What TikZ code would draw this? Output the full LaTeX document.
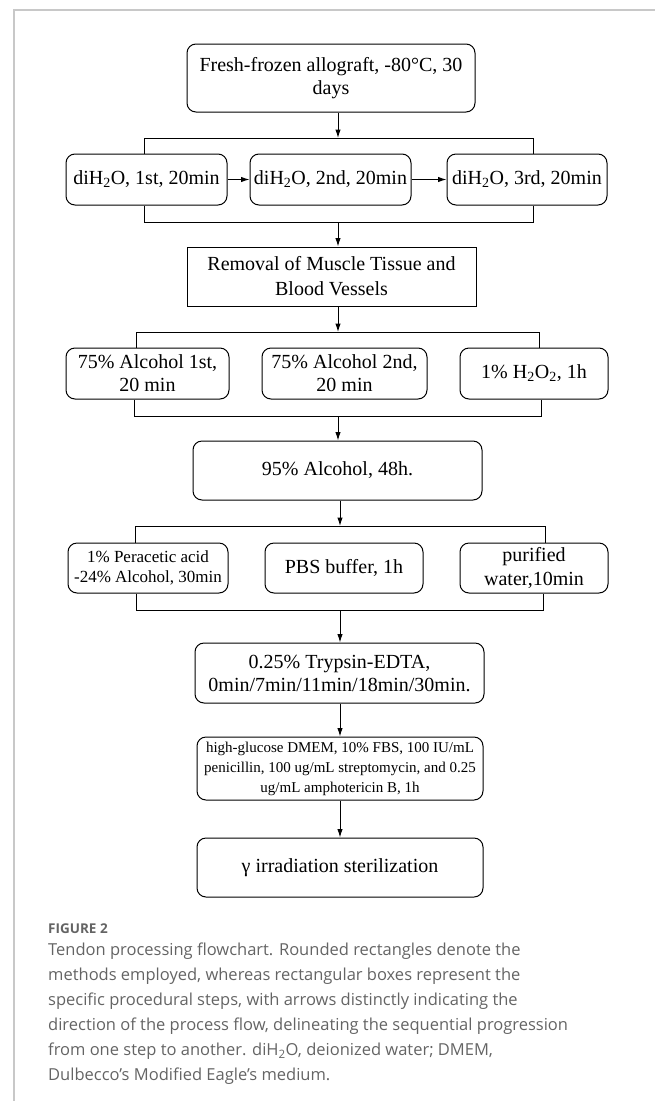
\documentclass[tikz,border=0pt]{standalone}
\usepackage{fontspec}
\setmainfont{Liberation Serif}
\newfontfamily\capfont{Open Sans}
\usetikzlibrary{arrows.meta}
\definecolor{framegray}{RGB}{200,200,200}
\definecolor{capgray}{RGB}{100,100,100}

\begin{document}
\begin{tikzpicture}[x=1pt, y=-1pt,
    method/.style={
        rectangle, draw=black, line width=1pt, rounded corners=9pt,
        align=center, inner sep=0pt, font=\fontsize{20}{23}\selectfont},
    stepbox/.style={
        rectangle, draw=black, line width=1pt,
        align=center, inner sep=0pt, font=\fontsize{20}{25}\selectfont},
    arr/.style={-{Latex[length=8.5pt, width=5.5pt]}, line width=1pt},
    link/.style={line width=1pt}
]
\useasboundingbox (0,0) rectangle (655,1101);

%% ── Page frame ──────────────────────────────────────────────────
\draw[framegray, line width=1.5pt] (14,1101) -- (14,10) -- (655,10);

%% ── Start ───────────────────────────────────────────────────────
\node[method, minimum width=288pt, minimum height=68pt] (fresh) at (331,78)
    {Fresh-frozen allograft, -80°C, 30\\days};

%% ── Deionized water washes ──────────────────────────────────────
\node[method, minimum width=161pt, minimum height=51pt] (di1) at (146.5,179.5)
    {diH\textsubscript{2}O, 1st, 20min};
\node[method, minimum width=161pt, minimum height=51pt] (di2) at (330.5,179.5)
    {diH\textsubscript{2}O, 2nd, 20min};
\node[method, minimum width=160pt, minimum height=51pt] (di3) at (527,179.5)
    {diH\textsubscript{2}O, 3rd, 20min};

%% ── Removal step ────────────────────────────────────────────────
\node[stepbox, minimum width=289pt, minimum height=59pt] (removal) at (331.5,276.5)
    {Removal of Muscle Tissue and\\Blood Vessels};

%% ── Alcohol and peroxide ────────────────────────────────────────
\node[method, minimum width=163pt, minimum height=51pt] (alc1) at (147.5,373.5)
    {75\% Alcohol 1st,\\20 min};
\node[method, minimum width=165pt, minimum height=51pt] (alc2) at (344.5,373.5)
    {75\% Alcohol 2nd,\\20 min};
\node[method, minimum width=148pt, minimum height=51pt] (hpo) at (534,373.5)
    {1\% H\textsubscript{2}O\textsubscript{2}, 1h};

\node[method, minimum width=289pt, minimum height=59pt] (alc95) at (337.5,470.5)
    {95\% Alcohol, 48h.};

%% ── Peracetic acid, PBS, water ──────────────────────────────────
\node[method, minimum width=160pt, minimum height=50pt,
      font=\fontsize{17}{20}\selectfont] (pera) at (148,568)
    {1\% Peracetic acid\\-24\% Alcohol, 30min};
\node[method, minimum width=158pt, minimum height=50pt] (pbs) at (344,568)
    {PBS buffer, 1h};
\node[method, minimum width=148pt, minimum height=50pt,
      font=\fontsize{20}{24}\selectfont] (water) at (534,568)
    {purified\\water,10min};

%% ── Trypsin, medium, sterilization ──────────────────────────────
\node[method, minimum width=289pt, minimum height=60pt] (tryp) at (339.5,673)
    {0.25\% Trypsin-EDTA,\\0min/7min/11min/18min/30min.};
\node[method, minimum width=286pt, minimum height=63pt,
      font=\fontsize{15}{20}\selectfont] (dmem) at (340,768.5)
    {high-glucose DMEM, 10\% FBS, 100 IU/mL\\penicillin, 100 ug/mL streptomycin, and 0.25\\ug/mL amphotericin B, 1h};
\node[method, minimum width=286pt, minimum height=59pt] (gamma) at (340,867.5)
    {γ irradiation sterilization};

%% ── Split / merge points ────────────────────────────────────────
\coordinate (s1)  at (338,138);
\coordinate (s1l) at (144,138);
\coordinate (s1r) at (533,138);
\coordinate (m1)  at (338,222);
\coordinate (m1l) at (144,222);
\coordinate (m1r) at (533,222);

\coordinate (s2)  at (338,332);
\coordinate (s2l) at (136,332);
\coordinate (s2r) at (539,332);
\coordinate (m2)  at (338,416);
\coordinate (m2l) at (134,416);
\coordinate (m2r) at (541,416);

\coordinate (s3)  at (340,526);
\coordinate (s3l) at (135,526);
\coordinate (s3r) at (545,526);
\coordinate (m3)  at (340,610);
\coordinate (m3l) at (136,610);
\coordinate (m3r) at (543,610);

%% ── Washes ──────────────────────────────────────────────────────
\draw[arr] (fresh.south -| s1) -- (s1);
\draw[link] (s1l |- di1.north) -- (s1l) -- (s1r) -- (s1r |- di3.north);
\draw[arr] (di1) -- (di2);
\draw[arr] (di2) -- (di3);
\draw[link] (m1l |- di1.south) -- (m1l) -- (m1r) -- (m1r |- di3.south);
\draw[arr] (m1) -- (m1 |- removal.north);

%% ── Alcohol row ─────────────────────────────────────────────────
\draw[arr] (removal.south -| s2) -- (s2);
\draw[link] (s2l |- alc1.north) -- (s2l) -- (s2r) -- (s2r |- hpo.north);
\draw[link] (m2l |- alc1.south) -- (m2l) -- (m2r) -- (m2r |- hpo.south);
\draw[arr] (m2) -- (m2 |- alc95.north);

%% ── Peracetic row ───────────────────────────────────────────────
\draw[arr] (alc95.south -| s3) -- (s3);
\draw[link] (s3l |- pera.north) -- (s3l) -- (s3r) -- (s3r |- water.north);
\draw[link] (m3l |- pera.south) -- (m3l) -- (m3r) -- (m3r |- water.south);
\draw[arr] (m3) -- (m3 |- tryp.north);

%% ── Last steps ──────────────────────────────────────────────────
\draw[arr] (tryp.south -| m3) -- (dmem.north -| m3);
\draw[arr] (dmem.south -| m3) -- (gamma.north -| m3);

%% ── Caption ─────────────────────────────────────────────────────
\node[anchor=base west, inner sep=0pt, text=capgray,
      font=\capfont\bfseries\fontsize{13.5}{16}\selectfont] (figlabel) at (48,933)
    {FIGURE 2};
\node[anchor=north west, inner sep=0pt, align=left, text=capgray,
      font=\capfont\fontsize{16.5}{25}\selectfont] (caption) at (48,943)
    {Tendon processing flowchart. Rounded rectangles denote the\\
     methods employed, whereas rectangular boxes represent the\\
     specific procedural steps, with arrows distinctly indicating the\\
     direction of the process flow, delineating the sequential progression\\
     from one step to another. diH\textsubscript{2}O, deionized water; DMEM,\\
     Dulbecco’s Modified Eagle’s medium.};

\end{tikzpicture}
\end{document}
